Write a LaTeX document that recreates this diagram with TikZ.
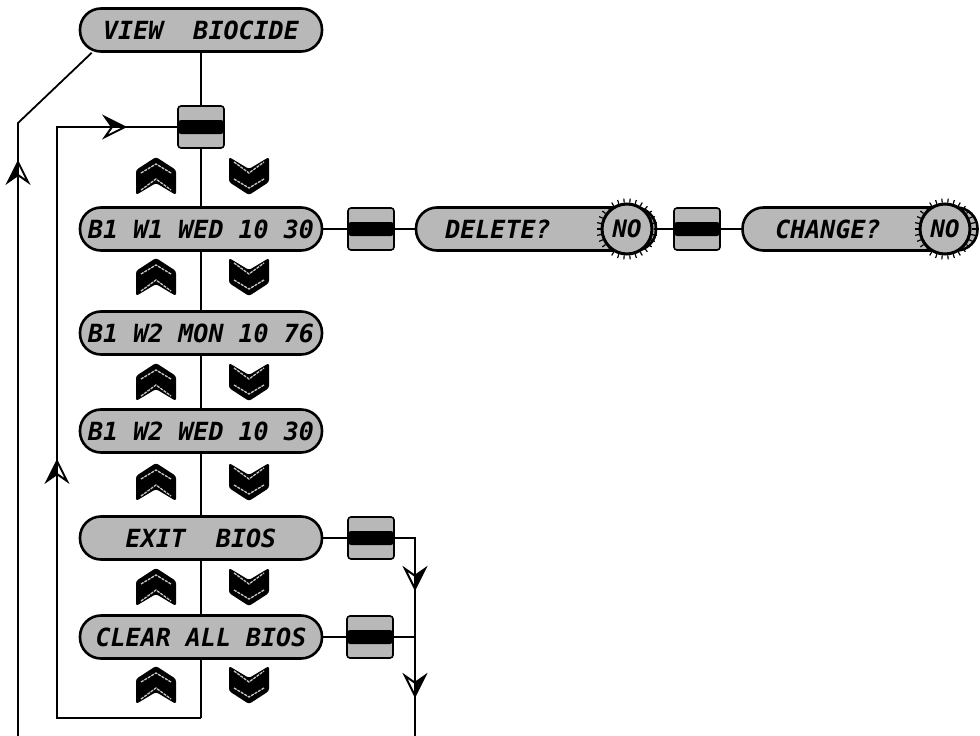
\documentclass[tikz,border=0pt]{standalone}
\usepackage{fontspec}
\newfontfamily\lcdfont{DejaVu Sans Mono}[BoldFont={DejaVu Sans Mono Bold},ItalicFont={DejaVu Sans Mono Oblique},BoldItalicFont={DejaVu Sans Mono Bold Oblique}]
\usetikzlibrary{arrows.meta,decorations.markings,backgrounds,calc}
\definecolor{pillgray}{gray}{0.72}
\definecolor{stripegray}{gray}{0.78}
\newcommand\flowheadmark{%
  \fill[white] (0,0) -- (-20,-10) -- (-13,0) -- (-20,10) -- cycle;
  \fill[black] (0,0) -- (-20,-10) -- (-13,0) -- cycle;
  \draw[line width=2pt,line join=miter] (0,0) -- (-20,-10) -- (-13,0) -- (-20,10) -- cycle;
  \draw[line width=1.8pt] (-13,0) -- (0,0);}
\tikzset{
  lcd/.style={font=\lcdfont\bfseries\itshape\fontsize{25}{25}\selectfont},
  pill/.style={draw,line width=2.6pt,fill=pillgray,rounded corners=21pt,minimum width=242pt,minimum height=43pt,inner sep=0pt,lcd},
  keybox/.style={draw,line width=1.6pt,fill=pillgray,rounded corners=3pt,minimum width=46pt,minimum height=42pt,inner sep=0pt,
    path picture={\fill[black] ([yshift=-7pt]path picture bounding box.west) rectangle ([yshift=7pt]path picture bounding box.east);}},
  nocirc/.style={circle,draw,line width=3pt,fill=pillgray,minimum size=50pt,inner sep=0pt,font=\lcdfont\bfseries\itshape\fontsize{24}{24}\selectfont},
  link/.style={line width=1.8pt},
  arrowat/.style={postaction={decorate,decoration={markings,mark=at position #1 with {\flowheadmark}}}},
  upchev/.pic={
    \fill[black,rounded corners=2.5pt] (-20,19) -- (-20,-6) -- (0,-19) -- (20,-6) -- (20,19) -- (0,7) -- cycle;
    \draw[stripegray,line width=1.3pt,dash pattern=on 3pt off 1pt] (-15,-3) -- (0,-12) -- (15,-3);
    \draw[stripegray,line width=1.3pt,dash pattern=on 3pt off 1pt] (-15,14) -- (0,3) -- (15,14);
  },
  downchev/.pic={
    \fill[black,rounded corners=2.5pt] (-20,-19) -- (0,-7) -- (20,-19) -- (20,6) -- (0,19) -- (-20,6) -- cycle;
    \draw[stripegray,line width=1.3pt,dash pattern=on 3pt off 1pt] (-15,-14) -- (0,-3) -- (15,-14);
    \draw[stripegray,line width=1.3pt,dash pattern=on 3pt off 1pt] (-15,3) -- (0,12) -- (15,3);
  }
}
\begin{document}
\begin{tikzpicture}[x=1pt,y=-1pt]
\useasboundingbox (0,0) rectangle (980,736);
% main column
\node[pill] (view) at (201,30) {VIEW\ \ BIOCIDE};
\node[keybox] (topsq) at (201,127) {};
\node[pill] (b1) at (201,229) {B1 W1 WED 10 30};
\node[pill] (mon) at (201,333) {B1 W2 MON 10 76};
\node[pill] (wed) at (201,431) {B1 W2 WED 10 30};
\node[pill] (exit) at (201,538) {EXIT\ \ BIOS};
\node[pill] (clear) at (201,637) {CLEAR ALL BIOS};
% right row
\node[keybox] (sq1) at (371,229) {};
\node[pill,minimum width=240pt] (del) at (536,229) {};
\node[lcd] (deltxt) at (498,229) {DELETE?};
\node[nocirc] (delno) at (627,229) {NO};
\node[keybox] (sq2) at (697,229) {};
\node[pill,minimum width=235pt] (chg) at (860,229) {};
\node[lcd] (chgtxt) at (828,229) {CHANGE?};
\node[nocirc] (chgno) at (945,229) {NO};
% exit / clear keys
\node[keybox] (sqe) at (371,538) {};
\node[keybox] (sqc) at (370,637) {};
% spikes on NO circles
\foreach \nm in {delno,chgno}{
  \foreach \a in {0,12,...,348}{
    \draw[line width=1.2pt] (\nm.\a) -- ([shift={(\a:4pt)}]\nm.\a);
  }
}
% chevrons
\foreach \yy in {176,277,382,482,587,685}{
  \pic at (156,\yy) {upchev};
  \pic at (249,\yy) {downchev};
}
% coordinates
\coordinate (cbot) at (201,718);
\coordinate (lbot) at (57,718);
\coordinate (obot) at (18,736);
\coordinate (ocorn) at (18,123);
\coordinate (rbot) at (415,736);
\begin{scope}[on background layer]
\draw[link] (view.south) -- (topsq.north);
\draw[link] (topsq.south) -- (b1.north);
\draw[link] (b1.south) -- (mon.north);
\draw[link] (mon.south) -- (wed.north);
\draw[link] (wed.south) -- (exit.north);
\draw[link] (exit.south) -- (clear.north);
\draw[link] (clear.south) -- (cbot);
\draw[link] (cbot) -- (lbot) -- (lbot |- topsq.west) -- (topsq.west);
\draw[link] (obot) -- (ocorn) -- ([xshift=13pt]view.south west);
\draw[link] (b1.east) -- (sq1.west);
\draw[link] (sq1.east) -- (del.west);
\draw[link] (delno.east) -- (sq2.west);
\draw[link] (sq2.east) -- (chg.west);
\draw[link] (exit.east) -- (sqe.west);
\draw[link] (clear.east) -- (sqc.west);
\draw[link] (sqe.east) -- (rbot |- sqe.east) -- (rbot);
\draw[link] (sqc.east) -- (rbot |- sqc.east);
\end{scope}
% arrowheads along the connectors
\path[arrowat=401pt,arrowat=803pt] (cbot) -- (lbot) -- (lbot |- topsq.west) -- (topsq.west);
\path[arrowat=574pt] (obot) -- (ocorn) -- ([xshift=13pt]view.south west);
\path[arrowat=71pt,arrowat=178pt] (sqe.east) -- (rbot |- sqe.east) -- (rbot);
\end{tikzpicture}
\end{document}
